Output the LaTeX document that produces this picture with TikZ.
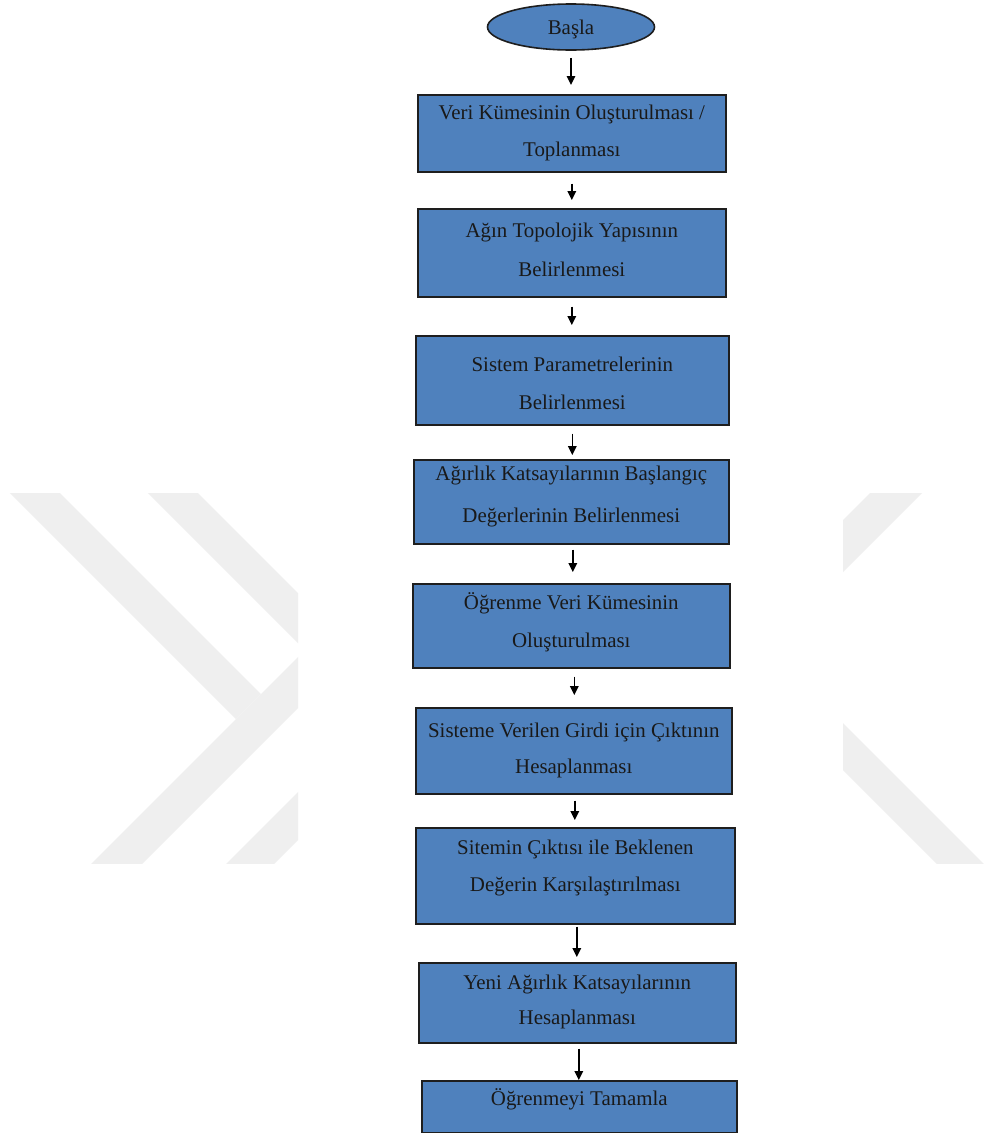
\documentclass[tikz,border=0pt]{standalone}
\usepackage{fontspec}
\setmainfont{Liberation Serif}
\usetikzlibrary{arrows.meta,shapes.geometric}
\definecolor{boxblue}{HTML}{4F81BD}
\definecolor{wm}{HTML}{EFEFEF}
\definecolor{edgec}{HTML}{1E1E1E}
\begin{document}
\begin{tikzpicture}[x=1pt,y=-1pt,
  stepbox/.style={draw=edgec, line width=1.6pt, fill=boxblue, rectangle, anchor=north west,
    inner xsep=2pt, inner ysep=0pt, align=center, text=black!90,
    font=\fontsize{20.9}{38}\selectfont, text depth=3pt},
  startnode/.style={draw=edgec, line width=1.6pt, fill=boxblue, ellipse, inner sep=0pt,
    text=black!90, font=\fontsize{20.9}{38}\selectfont, text height=15pt, text depth=1pt,
    minimum width=167pt, minimum height=46pt},
  arr/.style={draw=black, line width=1.5pt, -{Triangle[width=8.5pt,length=9pt]}},
  wmark/.style={fill=wm, draw=none}]
\useasboundingbox (0,0) rectangle (984,1133);
\fill[white] (0,0) rectangle (984,1133);
% watermark, left
\begin{scope}
\clip (0,493) rectangle (298,863);
\fill[wmark] (-100,195) -- (400,695) -- (400,745) -- (-100,245) -- cycle;
\fill[wmark] (-100,333) -- (261,694) -- (236,719) -- (-100,383) -- cycle;
\fill[wmark] (-100,1055) -- (400,555) -- (400,606) -- (-100,1106) -- cycle;
\fill[wmark] (-100,1190) -- (400,690) -- (400,738) -- (-100,1238) -- cycle;
\end{scope}
% watermark, right
\begin{scope}
\clip (843,493) rectangle (984,863);
\fill[wmark] (800,563) -- (1100,263) -- (1100,315) -- (800,615) -- cycle;
\fill[wmark] (800,680) -- (1100,980) -- (1100,1027) -- (800,727) -- cycle;
\end{scope}
% nodes
\node[startnode] (s) at (571,27) {Başla};
\node[stepbox, minimum width=308pt, minimum height=77pt, text height=50pt] (b1) at (417,94)
  {Veri Kümesinin Oluşturulması /\\[-1pt]Toplanması};
\node[stepbox, minimum width=308pt, minimum height=88pt, text height=51pt] (b2) at (417,208)
  {Ağın Topolojik Yapısının\\[1pt]Belirlenmesi};
\node[stepbox, minimum width=313pt, minimum height=89pt, text height=62pt] (b3) at (415,335)
  {Sistem Parametrelerinin\\Belirlenmesi};
\node[stepbox, minimum width=315pt, minimum height=84pt, text height=45pt] (b4) at (413,459)
  {Ağırlık Katsayılarının Başlangıç\\[4pt]Değerlerinin Belirlenmesi};
\node[stepbox, minimum width=317pt, minimum height=84pt, text height=47pt] (b5) at (412,583)
  {Öğrenme Veri Kümesinin\\Oluşturulması};
\node[stepbox, minimum width=316pt, minimum height=86pt, text height=49pt] (b6) at (415,707)
  {Sisteme Verilen Girdi için Çıktının\\[-2pt]Hesaplanması};
\node[stepbox, minimum width=319pt, minimum height=96pt, text height=35pt] (b7) at (415,827)
  {Sitemin Çıktısı ile Beklenen\\[-1pt]Değerin Karşılaştırılması};
\node[stepbox, minimum width=317pt, minimum height=80pt, text height=47pt] (b8) at (418,962)
  {Yeni Ağırlık Katsayılarının\\[-3pt]Hesaplanması};
\node[stepbox, minimum width=315pt, minimum height=52pt, text height=1pt] (b9) at (421,1080)
  {Öğrenmeyi Tamamla};
% connectors
\draw[arr, shorten <=7pt, shorten >=9pt] (s.south) -- (s.south |- b1.north);
\draw[arr, shorten <=11pt, shorten >=8pt] (b1.south) -- (b1.south |- b2.north);
\draw[arr, shorten <=9pt, shorten >=10pt] (b2.south) -- (b2.south |- b3.north);
\draw[arr, shorten <=8pt, shorten >=4pt] (b3.south) -- (b3.south |- b4.north);
\draw[arr, shorten <=5pt, shorten >=11pt] ([xshift=1.5pt]b4.south) -- ([xshift=1.5pt]b4.south |- b5.north);
\draw[arr, shorten <=8pt, shorten >=12pt] ([xshift=3pt]b5.south) -- ([xshift=3pt]b5.south |- b6.north);
\draw[arr, shorten <=6pt, shorten >=7pt] ([xshift=1pt]b6.south) -- ([xshift=1pt]b6.south |- b7.north);
\draw[arr, shorten <=2pt, shorten >=5pt] ([xshift=1.5pt]b7.south) -- ([xshift=1.5pt]b7.south |- b8.north);
\draw[arr, shorten <=5pt, shorten >=0pt] ([xshift=1.5pt]b8.south) -- ([xshift=1.5pt]b8.south |- b9.north);
\end{tikzpicture}
\end{document}
